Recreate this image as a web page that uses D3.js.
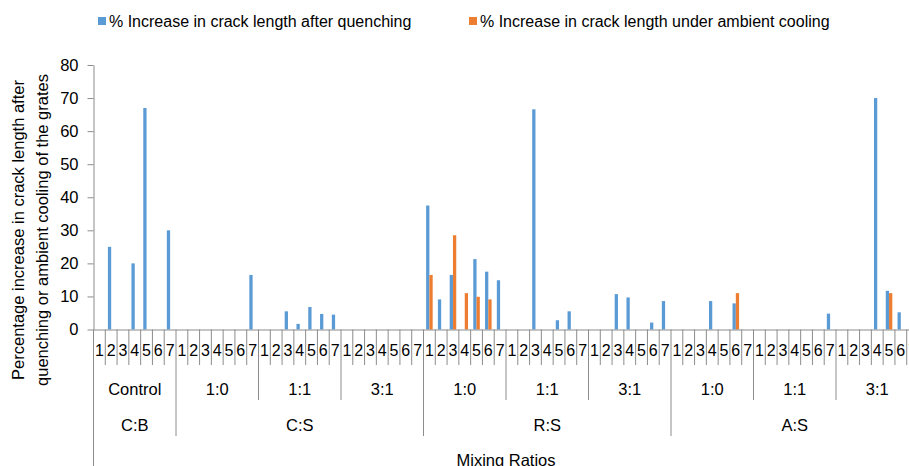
<!DOCTYPE html>
<html>
<head>
<meta charset="utf-8">
<script src="https://cdn.jsdelivr.net/npm/d3@7"></script>
<style>
  body { margin: 0; background: #fff; }
  svg { display: block; font-family: "Liberation Sans", Arial, sans-serif; }
</style>
</head>
<body>
<div id="chart-area"></div>
<script>
// DATA
const materials = ["C:B", "C:S", "R:S", "A:S"]
const groupsPerMaterial = [1, 3, 3, 3]
const ratios = ["Control", "1:0", "1:1", "3:1", "1:0", "1:1", "3:1", "1:0", "1:1", "3:1"]
const samples = ["1", "2", "3", "4", "5", "6", "7"]
const seriesNames = ["% Increase in crack length after quenching", "% Increase in crack length under ambient cooling"]
const yTicks = [0, 10, 20, 30, 40, 50, 60, 70, 80]

// one row of 7 per ratio group, in the order of `ratios`
const quenching = [
  [0, 25, 0, 20, 67, 0, 30],
  [0, 0, 0, 0, 0, 0, 16.5],
  [0, 0, 5.5, 1.7, 6.8, 4.7, 4.5],
  [0, 0, 0, 0, 0, 0, 0],
  [37.5, 9.1, 16.5, 0, 21.3, 17.5, 14.9],
  [0, 0, 66.6, 0, 2.8, 5.5, 0],
  [0, 0, 10.7, 9.7, 0, 2.1, 8.6],
  [0, 0, 0, 8.6, 0, 7.9, 0],
  [0, 0, 0, 0, 0, 0, 4.8],
  [0, 0, 0, 70, 11.7, 5.2, 0]
]
const ambient = [
  [0, 0, 0, 0, 0, 0, 0],
  [0, 0, 0, 0, 0, 0, 0],
  [0, 0, 0, 0, 0, 0, 0],
  [0, 0, 0, 0, 0, 0, 0],
  [16.5, 0, 28.5, 11, 9.9, 9.1, 0],
  [0, 0, 0, 0, 0, 0, 0],
  [0, 0, 0, 0, 0, 0, 0],
  [0, 0, 0, 0, 0, 11, 0],
  [0, 0, 0, 0, 0, 0, 0],
  [0, 0, 0, 0, 11, 0, 0]
]

const WIDTH = 909, HEIGHT = 466
const COLORS = ["#5B9BD5", "#ED7D31"]
const AXIS = "#8c8c8c"
const PLOT = { LEFT: 93.5, RIGHT: 918.5, TOP: 65, BOTTOM: 329.5 }

const svg = d3.select("#chart-area").append("svg")
  .attr("width", WIDTH)
  .attr("height", HEIGHT)

// flatten to 70 categories
const cats = []
ratios.forEach((r, g) => {
  samples.forEach((s, k) => {
    cats.push({ idx: g * 7 + k, group: g, sample: s, values: [quenching[g][k], ambient[g][k]] })
  })
})

const xScale = d3.scaleBand()
  .domain(cats.map(d => d.idx))
  .range([PLOT.LEFT, PLOT.RIGHT])
  .padding(0)
const cw = xScale.bandwidth()

const xInner = d3.scaleBand()
  .domain([0, 1])
  .range([0, cw])
  .paddingInner(0)
  .paddingOuter(0.8)

const yScale = d3.scaleLinear()
  .domain([0, 80])
  .range([PLOT.BOTTOM, PLOT.TOP])

//Y-AXIS
const yAxis = d3.axisLeft(yScale)
  .tickValues(yTicks)
  .tickSize(6)
  .tickSizeOuter(0)
  .tickPadding(9)
const yg = svg.append("g")
  .attr("transform", `translate(${PLOT.LEFT},0)`)
  .call(yAxis)
yg.select(".domain").attr("stroke", AXIS)
yg.selectAll(".tick line").attr("stroke", AXIS)
yg.selectAll(".tick text")
  .attr("font-size", 16.5)
  .attr("font-family", "Liberation Sans, Arial, sans-serif")
  .attr("fill", "#000")

//BARS
const catG = svg.append("g").selectAll("g")
  .data(cats)
  .enter().append("g")
  .attr("transform", d => `translate(${xScale(d.idx)},0)`)
catG.selectAll("rect")
  .data(d => d.values.map((v, i) => ({ v, i })).filter(e => e.v > 0))
  .enter().append("rect")
  .attr("x", e => xInner(e.i))
  .attr("width", xInner.bandwidth())
  .attr("y", e => yScale(e.v))
  .attr("height", e => PLOT.BOTTOM - yScale(e.v))
  .attr("fill", e => COLORS[e.i])

//X-AXIS (multi-level)
const xAxis = d3.axisBottom(xScale)
  .tickSize(0)
  .tickPadding(15)
  .tickFormat(i => cats[i].sample)
const xg = svg.append("g")
  .attr("transform", `translate(0,${PLOT.BOTTOM})`)
  .call(xAxis)
xg.select(".domain").attr("stroke", AXIS)
xg.selectAll(".tick text")
  .attr("font-size", 16)
  .attr("font-family", "Liberation Sans, Arial, sans-serif")
  .attr("fill", "#000")

// separators: sample cells, ratio groups, material groups
const matStarts = []
let acc = 0
groupsPerMaterial.forEach(n => { matStarts.push(acc * 7); acc += n })
const bounds = d3.range(0, cats.length + 1)
svg.append("g").selectAll("line")
  .data(bounds)
  .enter().append("line")
  .attr("x1", i => PLOT.LEFT + i * cw)
  .attr("x2", i => PLOT.LEFT + i * cw)
  .attr("y1", PLOT.BOTTOM)
  .attr("y2", i => {
    if (i === 0) return HEIGHT
    if (matStarts.includes(i)) return 436
    if (i % 7 === 0) return 400
    return 365
  })
  .attr("stroke", AXIS)
  .attr("stroke-width", 1)

// ratio labels
svg.append("g").selectAll("text")
  .data(ratios)
  .enter().append("text")
  .attr("x", (r, g) => PLOT.LEFT + (g * 7 + 3.5) * cw)
  .attr("y", 395)
  .attr("text-anchor", "middle")
  .attr("font-size", 16.5)
  .text(r => r)

// material labels
svg.append("g").selectAll("text")
  .data(materials)
  .enter().append("text")
  .attr("x", (m, i) => PLOT.LEFT + (matStarts[i] + groupsPerMaterial[i] * 3.5) * cw)
  .attr("y", 431)
  .attr("text-anchor", "middle")
  .attr("font-size", 16.5)
  .text(m => m)

// axis titles
svg.append("text")
  .attr("x", (PLOT.LEFT + PLOT.RIGHT) / 2)
  .attr("y", 466)
  .attr("text-anchor", "middle")
  .attr("font-size", 16.5)
  .text("Mixing Ratios")

const yTitle = ["Percentage increase in crack length after", "quenching or ambient cooling of the grates"]
svg.append("g")
  .attr("transform", "translate(0,230) rotate(-90)")
  .selectAll("text")
  .data(yTitle)
  .enter().append("text")
  .attr("x", 0)
  .attr("y", (t, i) => 24 + i * 24)
  .attr("text-anchor", "middle")
  .attr("font-size", 16.5)
  .text(t => t)

//LEGEND
const legendX = [98, 469]
const leg = svg.append("g").selectAll("g")
  .data(seriesNames)
  .enter().append("g")
  .attr("transform", (s, i) => `translate(${legendX[i]},0)`)
leg.append("rect")
  .attr("x", 0).attr("y", 17)
  .attr("width", 8).attr("height", 8)
  .attr("fill", (s, i) => COLORS[i])
leg.append("text")
  .attr("x", 11)
  .attr("y", 26.5)
  .attr("font-size", 16)
  .text(s => s)
</script>
</body>
</html>
